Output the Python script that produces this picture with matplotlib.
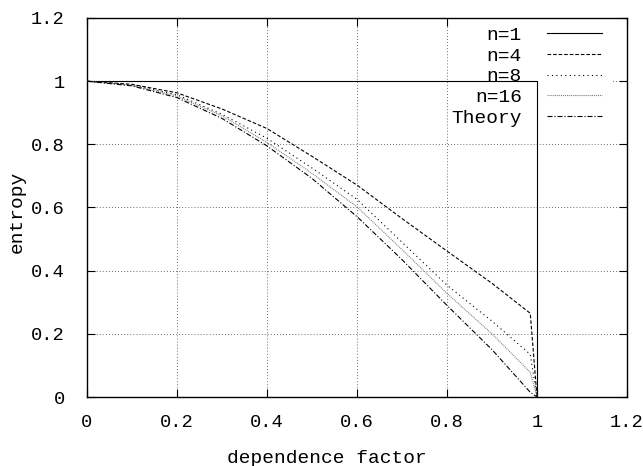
import matplotlib
matplotlib.use("Agg")
import matplotlib.pyplot as plt
from matplotlib.patches import Rectangle

# values (dependence factor -> entropy)
X = [0.0, 0.1, 0.2, 0.3, 0.4, 0.5, 0.6, 0.7, 0.8, 0.9, 0.985, 1.0]
N4 = [1.0, 0.990, 0.963, 0.912, 0.850, 0.762, 0.671, 0.565, 0.462, 0.360, 0.265, 0.0]
N8 = [1.0, 0.988, 0.957, 0.895, 0.819, 0.725, 0.626, 0.490, 0.354, 0.240, 0.135, 0.0]
N16 = [1.0, 0.987, 0.953, 0.890, 0.806, 0.708, 0.602, 0.467, 0.328, 0.200, 0.078, 0.0]
THEORY = [1.0, 0.985, 0.948, 0.882, 0.795, 0.692, 0.571, 0.435, 0.290, 0.150, 0.015, 0.0]
X1 = [0.0, 1.0, 1.0]
N1 = [1.0, 1.0, 0.0]

TICKS = [0, 0.2, 0.4, 0.6, 0.8, 1, 1.2]
TICK_LABELS = ["0", "0.2", "0.4", "0.6", "0.8", "1", "1.2"]

FONT = "Liberation Mono"
plt.rcParams["font.family"] = [FONT, "DejaVu Sans Mono"]
plt.rcParams["lines.scale_dashes"] = False

fig = plt.figure(figsize=(6.43, 4.66), dpi=100)
ax = fig.add_axes([87 / 643, 69 / 466, 540 / 643, 379 / 466])
ax.set_xlim(0, 1.2)
ax.set_ylim(0, 1.2)

ax.set_axisbelow(True)
ax.grid(True, color="#555555", linewidth=0.6, dashes=(0.7, 1.5))

# gnuplot leaves the key area free of grid lines
ax.add_patch(Rectangle((0.994, 0.862), 0.176, 0.34, facecolor="white",
                       edgecolor="none", zorder=1))

lw = 0.8
ax.plot(X1, N1, color="black", lw=lw, label="n=1", zorder=3)
ax.plot(X, N4, color="black", lw=lw, dashes=(2.6, 1.4), label="n=4", zorder=3)
ax.plot(X, N8, color="black", lw=lw, dashes=(0.8, 2.4), label="n=8", zorder=3)
ax.plot(X, N16, color="#7a7a7a", lw=lw, dashes=(0.7, 0.7), label="n=16", zorder=3)
ax.plot(X, THEORY, color="black", lw=lw, dashes=(3.6, 1.4, 0.8, 1.4),
        label="Theory", zorder=3)

ax.set_xticks(TICKS)
ax.set_xticklabels(TICK_LABELS)
ax.set_yticks(TICKS)
ax.set_yticklabels(TICK_LABELS)
ax.tick_params(direction="in", length=6, width=0.8, top=True, right=True,
               labelsize=13.5, colors="black")
ax.tick_params(axis="x", pad=12)
ax.tick_params(axis="y", pad=16)
for sp in ax.spines.values():
    sp.set_linewidth(1.0)

ax.set_xlabel("dependence factor", fontsize=14)
ax.set_ylabel("entropy", fontsize=14)
ax.xaxis.set_label_coords(0.444, -0.14)
ax.yaxis.set_label_coords(-0.113, 0.488)

leg = ax.legend(loc="upper right", bbox_to_anchor=(0.9537, 0.978),
                frameon=False, markerfirst=False, fontsize=14,
                handlelength=2.83, handletextpad=1.29, labelspacing=0.16,
                borderpad=0, borderaxespad=0)
leg.set_zorder(2)

fig.savefig("out.png", dpi=100, facecolor="white")
